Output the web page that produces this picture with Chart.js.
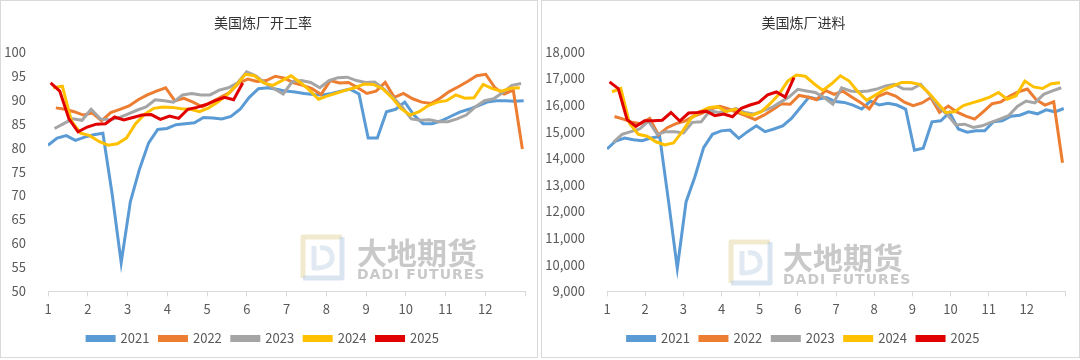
<!DOCTYPE html>
<html>
<head>
<meta charset="utf-8">
<script src="https://cdn.jsdelivr.net/npm/chart.js@4.4.1/dist/chart.umd.min.js"></script>
<style>
  body { margin: 0; background: #fff; }
  .panel { position: absolute; top: 0; height: 358px; border: 1px solid #d9d9d9; box-sizing: border-box; background: #fff; }
  #p1 { left: 0; width: 538px; }
  #p2 { left: 541px; width: 539px; }
</style>
</head>
<body>
<div class="panel" id="p1"><canvas id="c1" width="536" height="356"></canvas></div>
<div class="panel" id="p2"><canvas id="c2" width="537" height="356"></canvas></div>
<script>
// years and the day-of-year of each year's first weekly report
var years = ['2021', '2022', '2023', '2024', '2025'];
var firstDay = [0, 6, 5, 4, 2];
var colors = ['#5B9BD5', '#ED7D31', '#A5A5A5', '#FFC000', '#E00000'];
var monthTicks = [1, 2, 3, 4, 5, 6, 7, 8, 9, 10, 11, 12];

// 美国炼厂开工率 (%)
var util2021 = [80.5, 82, 82.5, 81.5, 82.2, 82.7, 83, 70.5, 56, 68.7, 75.5, 81, 83.8, 84, 84.8, 85, 85.2, 86.3, 86.2, 86, 86.5, 88, 90.5, 92.3, 92.5, 92.2, 91.8, 91.6, 91.3, 91.1, 91, 91.3, 91.8, 92.2, 91.2, 82, 82, 87.5, 88, 89.5, 86.8, 85, 85, 85.6, 86.5, 87.4, 88, 88.7, 89.5, 89.8, 89.8, 89.7, 89.8];
var util2022 = [88.3, 88, 87.5, 86.8, 87.2, 85.6, 87.3, 88, 88.7, 90, 91, 91.8, 92.5, 89.8, 90.3, 89.5, 88.5, 89.5, 90.5, 91.5, 93.5, 94.3, 93.8, 94, 94.9, 94.5, 93.5, 93, 92.3, 91.1, 94, 93.5, 93.6, 92.5, 91.3, 91.8, 93.6, 90.5, 91.3, 90.2, 89.5, 89.2, 90.3, 91.7, 92.7, 93.8, 95, 95.3, 92.5, 91.2, 92, 79.7];
var util2023 = [84, 85, 86, 85.7, 88, 86, 85.8, 86.2, 87, 87.8, 88.5, 90, 89.8, 89.5, 91, 91.3, 91, 91, 92, 92.5, 93.5, 95.8, 95, 93.5, 92.3, 91.2, 93.8, 94, 93.6, 92.5, 94, 94.6, 94.7, 94, 93.6, 93.7, 92.2, 90.5, 88.5, 86, 85.7, 85.8, 85.4, 85.4, 86, 86.8, 88.5, 89.8, 90.2, 91.5, 93, 93.4];
var util2024 = [92.5, 92.8, 85.5, 83, 82.5, 81.3, 80.5, 80.8, 82, 85, 87, 88.2, 88.5, 88.4, 88.1, 88, 87.5, 88.3, 89.5, 91, 93, 95.3, 95, 93.5, 93, 94, 95, 93.6, 92, 90.1, 90.8, 91.4, 92, 92.5, 93.3, 93.2, 92.3, 90.5, 88.2, 86.8, 87.5, 88.8, 89.5, 89.8, 91, 90.3, 90.4, 93.2, 92.3, 91.8, 92.4, 92.5];
var util2025 = [93.5, 91.8, 86, 83.3, 84.3, 84.9, 85, 86.4, 85.8, 86.3, 86.8, 86.9, 85.9, 86.6, 86.1, 88, 88.4, 89, 89.8, 90.5, 90, 93.5];

// 美国炼厂进料 (千桶/日)
var feed2021 = [14350, 14650, 14760, 14700, 14660, 14760, 14820, 12400, 9870, 12360, 13300, 14400, 14900, 15030, 15060, 14750, 15000, 15220, 15000, 15100, 15220, 15500, 15900, 16300, 16220, 16280, 16130, 16100, 16000, 15850, 16150, 16000, 16070, 16000, 15850, 14300, 14380, 15370, 15410, 15720, 15100, 14980, 15030, 15035, 15370, 15410, 15580, 15620, 15745, 15670, 15820, 15745, 15870];
var feed2022 = [15570, 15470, 15350, 15300, 15500, 14880, 15150, 15300, 15400, 15580, 15700, 15860, 15950, 15850, 15720, 15590, 15450, 15620, 15820, 16050, 16030, 16360, 16300, 16200, 16550, 16400, 16520, 16300, 16100, 15860, 16330, 16460, 16340, 16110, 15980, 16080, 16280, 15730, 15960, 15730, 15580, 15470, 15750, 16050, 16120, 16340, 16500, 16600, 16200, 16000, 16120, 13830];
var feed2023 = [14600, 14900, 15000, 15100, 15400, 14900, 15000, 15000, 14950, 15350, 15370, 15780, 15720, 15780, 15870, 15720, 15660, 15780, 15900, 16100, 16300, 16590, 16530, 16470, 16280, 16030, 16650, 16530, 16500, 16530, 16600, 16720, 16780, 16610, 16600, 16780, 16400, 15950, 15650, 15250, 15280, 15160, 15220, 15350, 15470, 15600, 15950, 16150, 16080, 16400, 16530, 16650];
var feed2024 = [16500, 16620, 15300, 14900, 14830, 14620, 14500, 14580, 15000, 15500, 15750, 15900, 15940, 15750, 15850, 15680, 15620, 15750, 16050, 16400, 16900, 17130, 17080, 16800, 16550, 16800, 17100, 16900, 16500, 16180, 16380, 16580, 16720, 16850, 16850, 16780, 16480, 16100, 15720, 15750, 15980, 16080, 16180, 16300, 16470, 16220, 16350, 16900, 16680, 16620, 16800, 16840];
var feed2025 = [16870, 16620, 15450, 15200, 15410, 15410, 15430, 15720, 15400, 15700, 15720, 15770, 15600, 15660, 15560, 15880, 16000, 16100, 16380, 16490, 16300, 17030];

var FONT = "'Noto Sans CJK SC', 'Noto Sans', sans-serif";

// weekly values -> points on a month axis (1 = Jan 1, 13 = year end)
function weekly(vals, yearIdx) {
  return vals.map(function (v, i) {
    var day = firstDay[yearIdx] + 7 * i;
    return { x: 1 + day * 12 / 365, y: v };
  });
}

function makeDatasets(series) {
  return series.map(function (vals, k) {
    return {
      label: years[k],
      data: weekly(vals, k),
      borderColor: colors[k],
      backgroundColor: colors[k],
      borderWidth: 3,
      pointRadius: 0,
      tension: 0,
      fill: false,
      order: 5 - k
    };
  });
}

// watermark "大地期货 DADI FUTURES"
function watermark(logoX, textX, top) {
  return {
    id: 'wm',
    beforeDatasetsDraw: function (chart) {
      var ctx = chart.ctx;
      ctx.save();
      ctx.globalAlpha = 0.55;
      ctx.lineWidth = 5;
      ctx.lineJoin = 'round';
      // logo frame
      ctx.strokeStyle = '#e6d9a8';
      ctx.beginPath();
      ctx.moveTo(logoX + 3, top + 44);
      ctx.lineTo(logoX + 3, top + 3);
      ctx.lineTo(logoX + 42, top + 3);
      ctx.stroke();
      ctx.strokeStyle = '#b9cfe3';
      ctx.beginPath();
      ctx.moveTo(logoX + 42, top + 3);
      ctx.lineTo(logoX + 42, top + 44);
      ctx.lineTo(logoX + 3, top + 44);
      ctx.stroke();
      ctx.strokeStyle = '#c9d9e8';
      ctx.beginPath();
      ctx.moveTo(logoX + 14, top + 12);
      ctx.lineTo(logoX + 14, top + 34);
      ctx.quadraticCurveTo(logoX + 34, top + 34, logoX + 32, top + 22);
      ctx.quadraticCurveTo(logoX + 30, top + 12, logoX + 20, top + 14);
      ctx.stroke();
      ctx.globalAlpha = 1;
      ctx.fillStyle = 'rgba(165,165,165,0.6)';
      ctx.textBaseline = 'alphabetic';
      ctx.font = "bold 30px 'Noto Sans CJK SC', sans-serif";
      ctx.fillText('大地期货', textX, top + 30);
      ctx.font = "bold 14px 'DejaVu Sans', sans-serif";
      ctx.letterSpacing = '1px';
      ctx.fillText('DADI FUTURES', textX, top + 45);
      ctx.restore();
    }
  };
}

function makeChart(id, title, series, yMin, yMax, yStep, yWidth, padRight, wm) {
  return new Chart(document.getElementById(id), {
    type: 'line',
    data: { datasets: makeDatasets(series) },
    plugins: [wm],
    options: {
      responsive: false,
      animation: false,
      layout: { padding: { left: 0, right: padRight, top: 0, bottom: 2 } },
      plugins: {
        title: {
          display: true,
          text: title,
          color: '#333333',
          font: { family: FONT, size: 14, weight: 'normal' },
          padding: { top: 13, bottom: 21 }
        },
        legend: {
          position: 'bottom',
          labels: {
            boxWidth: 27,
            boxHeight: 4,
            color: '#595959',
            font: { family: FONT, size: 13 },
            padding: 10,
            sort: function (a, b) { return a.datasetIndex - b.datasetIndex; }
          }
        },
        tooltip: { enabled: false }
      },
      scales: {
        x: {
          type: 'linear',
          min: 1,
          max: 13,
          afterBuildTicks: function (s) {
            s.ticks = monthTicks.concat([13]).map(function (v) { return { value: v }; });
          },
          ticks: {
            autoSkip: false,
            maxRotation: 0,
            color: '#595959',
            font: { family: FONT, size: 13 },
            padding: 5,
            callback: function (v) { return v === 13 ? '' : v; }
          },
          grid: { drawOnChartArea: false, drawTicks: true, tickLength: 5, color: '#d9d9d9' },
          border: { color: '#d9d9d9' }
        },
        y: {
          min: yMin,
          max: yMax,
          afterFit: function (s) { s.width = yWidth; },
          ticks: {
            stepSize: yStep,
            color: '#595959',
            font: { family: FONT, size: 13 },
            padding: 14,
            callback: function (v) { return v.toLocaleString('en-US'); }
          },
          grid: { display: false },
          border: { display: false }
        }
      }
    }
  });
}

makeChart('c1', '美国炼厂开工率',
  [util2021, util2022, util2023, util2024, util2025],
  50, 100, 5, 47, 12, watermark(299, 356, 233));

makeChart('c2', '美国炼厂进料',
  [feed2021, feed2022, feed2023, feed2024, feed2025],
  9000, 18000, 1000, 65, 14, watermark(186, 241, 238));
</script>
</body>
</html>
